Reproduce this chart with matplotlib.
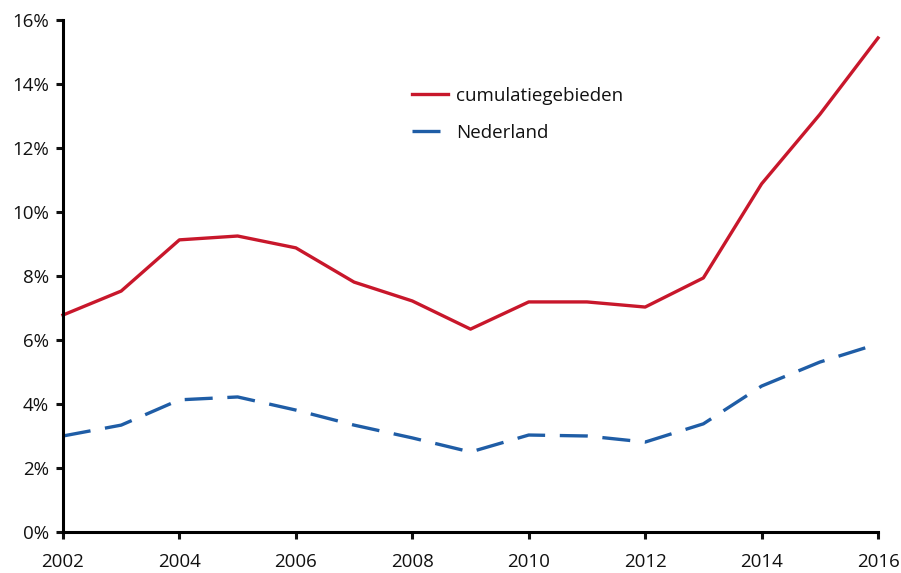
import matplotlib
matplotlib.use("Agg")
import matplotlib.pyplot as plt
from matplotlib.ticker import FuncFormatter, MultipleLocator

plt.rcParams['font.family'] = ['Open Sans', 'DejaVu Sans']

years = list(range(2002, 2017))
cumulatiegebieden = [6.78, 7.53, 9.13, 9.25, 8.88, 7.81, 7.22, 6.34, 7.19, 7.19, 7.03, 7.94, 10.88, 13.05, 15.44]
nederland = [3.00, 3.34, 4.13, 4.22, 3.81, 3.34, 2.94, 2.50, 3.03, 3.00, 2.81, 3.38, 4.56, 5.31, 5.88]

red = '#C8172B'
blue = '#1F5DA6'

fig = plt.figure(figsize=(9.01, 5.73), dpi=100)
ax = fig.add_axes([0.0699, 0.0716, 0.9046, 0.8934])

lw = 2.4
ax.plot(years, cumulatiegebieden, color=red, lw=lw, solid_joinstyle='round',
        label='cumulatiegebieden', clip_on=False)
ax.plot(years, nederland, color=blue, lw=lw, linestyle=(0, (8.4, 4.4)),
        label='Nederland', clip_on=False)

ax.set_xlim(2002, 2016)
ax.set_ylim(0, 16)
ax.xaxis.set_major_locator(MultipleLocator(2))
ax.yaxis.set_major_locator(MultipleLocator(2))
ax.yaxis.set_major_formatter(FuncFormatter(lambda v, p: f'{v:.0f}%'))

for s in ['top', 'right']:
    ax.spines[s].set_visible(False)
for s in ['left', 'bottom']:
    ax.spines[s].set_linewidth(2.2)
    ax.spines[s].set_color('black')

ax.tick_params(axis='both', direction='out', width=2.2, length=5,
               labelsize=13.5, colors='#111111')
ax.tick_params(axis='x', pad=10)
ax.tick_params(axis='y', pad=5)

leg = ax.legend(loc='center left', bbox_to_anchor=(0.428, 0.816), frameon=False,
                fontsize=13.5, handlelength=1.95, handletextpad=0.4,
                labelspacing=1.02, borderpad=0, borderaxespad=0)
for t in leg.get_texts():
    t.set_color('#111111')

fig.savefig('out.png', dpi=100)
